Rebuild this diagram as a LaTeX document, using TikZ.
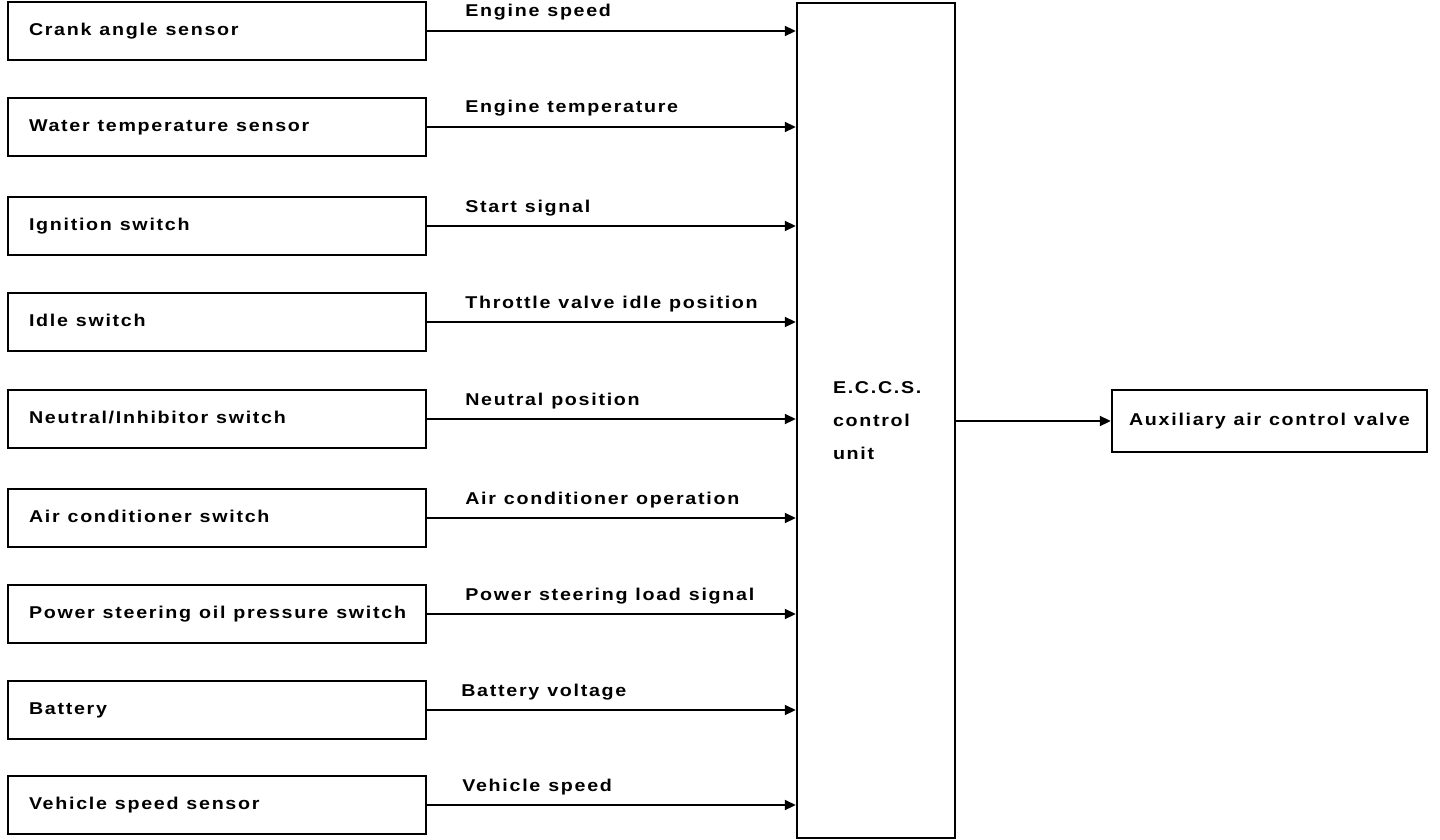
\documentclass[tikz,border=0pt]{standalone}
\usepackage{fontspec}
\setmainfont{Liberation Sans}[FakeStretch=1.15, LetterSpace=10, WordSpace=1.1]
\usetikzlibrary{arrows.meta}
\begin{document}
\begin{tikzpicture}[x=1pt,y=-1pt,
  txt/.style={font=\fontsize{17.1}{33}\selectfont\bfseries,
    execute at begin node={\spaceskip=0pt\xspaceskip=0pt}},
  src/.style={draw, line width=2.5pt, minimum width=418pt, minimum height=58pt,
    text width=376pt, align=left, inner xsep=21pt, inner ysep=0pt, txt,
    text height=12pt, text depth=3.5pt},
  ecubox/.style={draw, line width=2.5pt, minimum width=158pt, minimum height=835pt,
    text width=86pt, inner xsep=36pt, align=left, txt},
  outbox/.style={draw, line width=2.5pt, minimum width=315pt, minimum height=62pt,
    inner xsep=11pt, txt},
  arr/.style={line width=2.2pt, -{Triangle[length=11pt,width=10pt]}},
  lab/.style={txt, anchor=base west, inner sep=0pt, pos=0, xshift=37pt, yshift=14pt}]
\useasboundingbox (0,0) rectangle (1440,840);

\node[src] (b1) at (217,31) {Crank angle sensor};
\node[src] (b2) at (217,127) {Water temperature sensor};
\node[src] (b3) at (217,226) {Ignition switch};
\node[src] (b4) at (217,322) {Idle switch};
\node[src] (b5) at (217,419) {Neutral/Inhibitor switch};
\node[src] (b6) at (217,518) {Air conditioner switch};
\node[src] (b7) at (217,614) {\mbox{Power steering oil pressure switch}};
\node[src] (b8) at (217,710) {Battery};
\node[src] (b9) at (217,805) {Vehicle speed sensor};

\node[ecubox] (ecu) at (876,420.5) {E.C.C.S.\\control\\unit};
\node[outbox] (aux) at (1269.5,421) {Auxiliary air control valve};

\draw[arr] (b1.east) -- (b1.east -| ecu.west) node[lab] {Engine speed};
\draw[arr] (b2.east) -- (b2.east -| ecu.west) node[lab] {Engine temperature};
\draw[arr] (b3.east) -- (b3.east -| ecu.west) node[lab] {Start signal};
\draw[arr] (b4.east) -- (b4.east -| ecu.west) node[lab] {Throttle valve idle position};
\draw[arr] (b5.east) -- (b5.east -| ecu.west) node[lab] {Neutral position};
\draw[arr] (b6.east) -- (b6.east -| ecu.west) node[lab] {Air conditioner operation};
\draw[arr] (b7.east) -- (b7.east -| ecu.west) node[lab] {Power steering load signal};
\draw[arr] (b8.east) -- (b8.east -| ecu.west) node[lab, xshift=-4pt] {Battery voltage};
\draw[arr] (b9.east) -- (b9.east -| ecu.west) node[lab, xshift=-3pt] {Vehicle speed};

\draw[arr] (aux.west -| ecu.east) -- (aux.west);
\end{tikzpicture}
\end{document}
